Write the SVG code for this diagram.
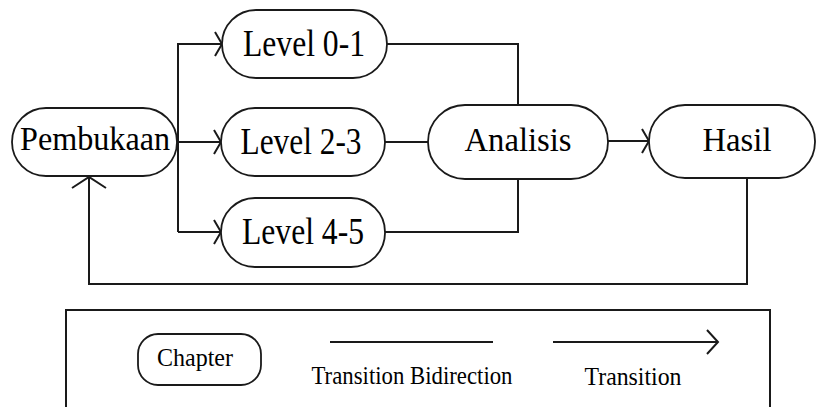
<svg xmlns="http://www.w3.org/2000/svg" width="816" height="407" viewBox="0 0 816 407">
  <style>
    .pill { fill: #ffffff; stroke: #1a1a1a; stroke-width: 1.8; }
    .label { font-family: "Liberation Serif", "Times New Roman", serif; font-size: 33px; fill: #000000; text-anchor: middle; }
    .tall { font-family: "Liberation Serif", "Times New Roman", serif; font-size: 37px; fill: #000000; text-anchor: middle; }
    .small { font-family: "Liberation Serif", "Times New Roman", serif; font-size: 25px; fill: #000000; text-anchor: middle; }
    .wire { fill: none; stroke: #1a1a1a; stroke-width: 2; }
    .frame { fill: #ffffff; stroke: #1a1a1a; stroke-width: 2; }
  </style>
  <defs>
    <marker id="head" markerUnits="userSpaceOnUse" markerWidth="30" markerHeight="40" refX="15" refY="20" orient="auto" overflow="visible">
      <path d="M8,8 L15,20 L8,32" fill="none" stroke="#1a1a1a" stroke-width="2"/>
    </marker>
    <marker id="headWide" markerUnits="userSpaceOnUse" markerWidth="30" markerHeight="40" refX="15" refY="20" orient="auto" overflow="visible">
      <path d="M4,3 L15,20 L4,37" fill="none" stroke="#1a1a1a" stroke-width="2"/>
    </marker>
    <marker id="headLegend" markerUnits="userSpaceOnUse" markerWidth="30" markerHeight="40" refX="15" refY="20" orient="auto" overflow="visible">
      <path d="M4,8 L15,20 L4,32" fill="none" stroke="#1a1a1a" stroke-width="2"/>
    </marker>
  </defs>

  <rect width="816" height="407" fill="#ffffff"/>

  <!-- connectors -->
  <g id="connectors">
    <path class="wire" d="M177,142 L221,142" marker-end="url(#head)"/>
    <path class="wire" d="M178,232 L178,44 L222,44" marker-end="url(#head)"/>
    <path class="wire" d="M178,232 L221,232" marker-end="url(#head)"/>
    <path class="wire" d="M387,44 L518,44 L518,105"/>
    <path class="wire" d="M385,142 L428,142"/>
    <path class="wire" d="M385,232 L518,232 L518,179"/>
    <path class="wire" d="M608,141 L649,141" marker-end="url(#head)"/>
    <path class="wire" d="M747,178 L747,284 L89,284 L89,177" marker-end="url(#headWide)"/>
  </g>

  <!-- nodes -->
  <g id="pembukaan">
    <rect class="pill" x="12" y="108" width="165" height="68" rx="34" ry="34"/>
    <text class="label" x="95" y="150" font-size="35" textLength="150" lengthAdjust="spacingAndGlyphs">Pembukaan</text>
  </g>
  <g id="level01">
    <rect class="pill" x="222" y="10" width="165" height="68" rx="34" ry="34"/>
    <text class="tall" x="304" y="56" textLength="122" lengthAdjust="spacingAndGlyphs">Level 0-1</text>
  </g>
  <g id="level23">
    <rect class="pill" x="221" y="108" width="164" height="68" rx="34" ry="34"/>
    <text class="tall" x="301" y="154" textLength="121" lengthAdjust="spacingAndGlyphs">Level 2-3</text>
  </g>
  <g id="level45">
    <rect class="pill" x="221" y="198" width="164" height="69" rx="34" ry="34"/>
    <text class="tall" x="303" y="244" textLength="122" lengthAdjust="spacingAndGlyphs">Level 4-5</text>
  </g>
  <g id="analisis">
    <rect class="pill" x="428" y="105" width="180" height="74" rx="37" ry="37"/>
    <text class="label" x="518" y="151" textLength="107" lengthAdjust="spacingAndGlyphs">Analisis</text>
  </g>
  <g id="hasil">
    <rect class="pill" x="649" y="105" width="166" height="73" rx="36" ry="36"/>
    <text class="label" x="737" y="151" textLength="69" lengthAdjust="spacingAndGlyphs">Hasil</text>
  </g>

  <!-- legend -->
  <g id="legend">
    <rect class="frame" x="66" y="310" width="704" height="120"/>
    <rect class="pill" x="138" y="334" width="123" height="51" rx="20" ry="20"/>
    <text class="small" x="195" y="366" textLength="76" lengthAdjust="spacingAndGlyphs">Chapter</text>
    <path class="wire" d="M330,342 L493,342"/>
    <text class="small" x="412" y="384" textLength="201" lengthAdjust="spacingAndGlyphs">Transition Bidirection</text>
    <path class="wire" d="M553,342 L718,342" marker-end="url(#headLegend)"/>
    <text class="small" x="633" y="385" textLength="97" lengthAdjust="spacingAndGlyphs">Transition</text>
  </g>
</svg>
